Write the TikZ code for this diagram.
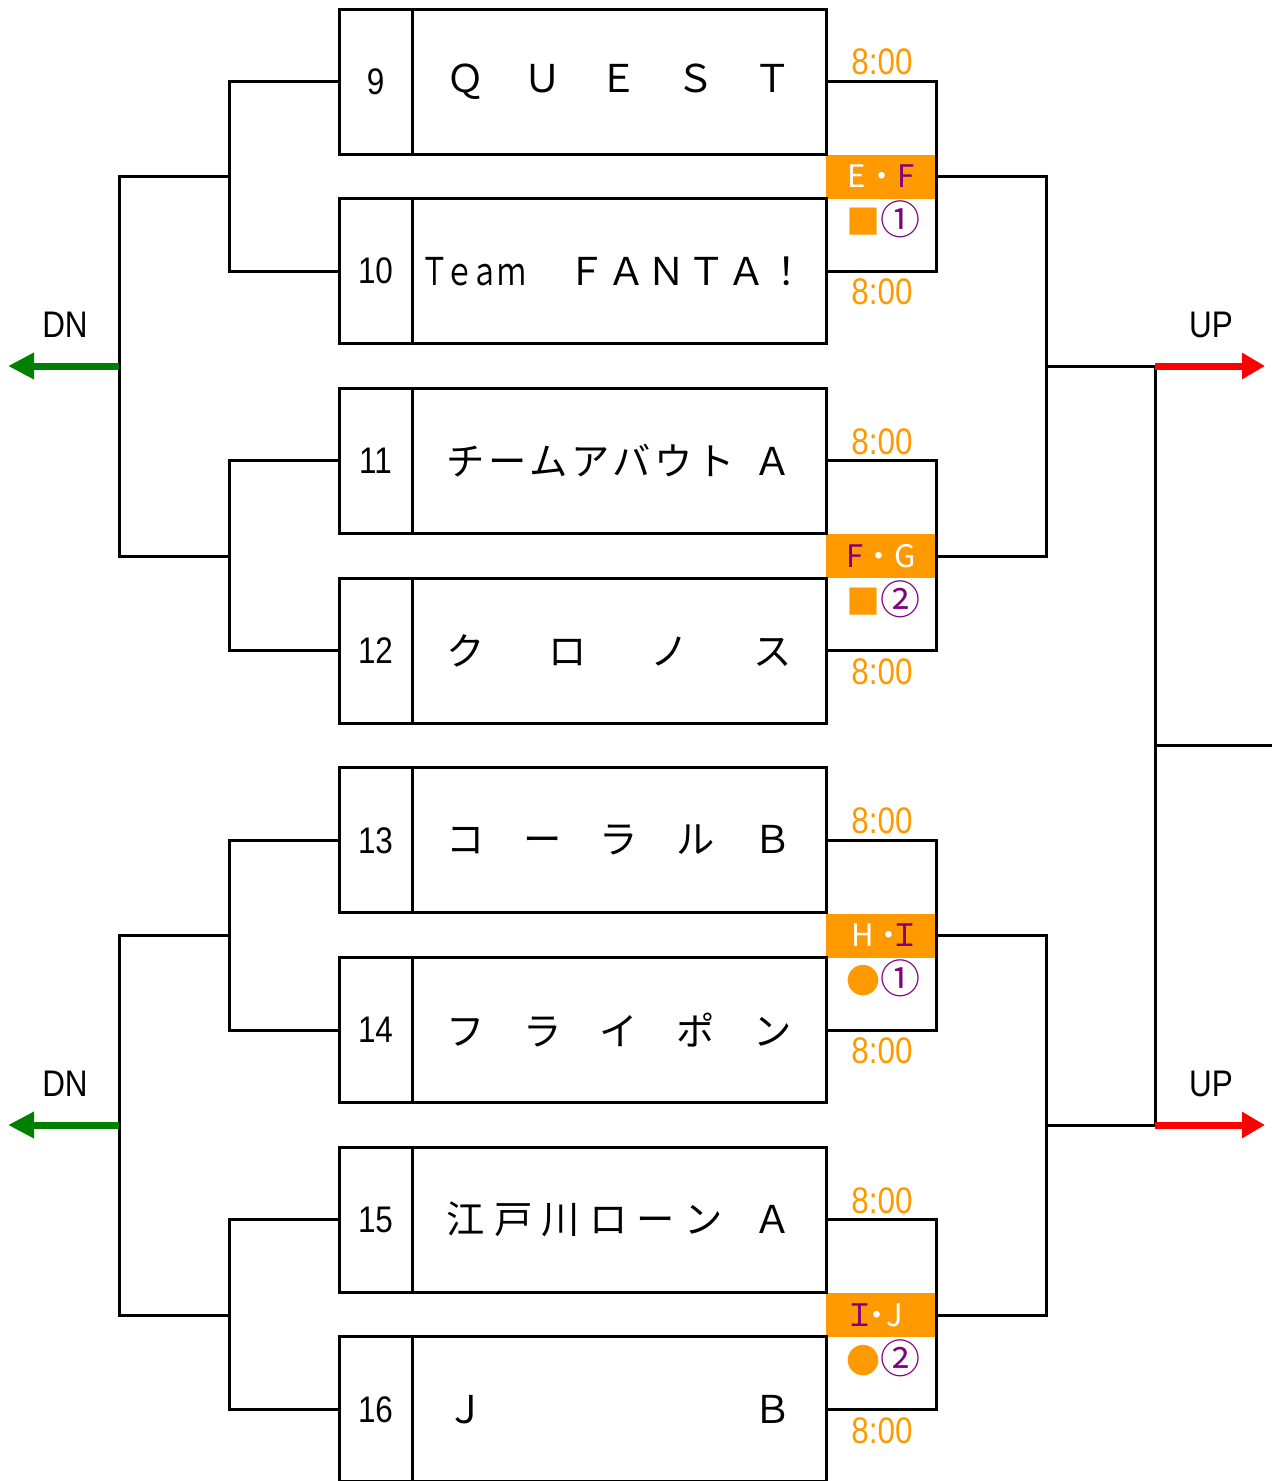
\documentclass[tikz,border=0pt]{standalone}
\usepackage{fontspec}
\setmainfont{Liberation Sans}
\newfontfamily\jpfont{Noto Sans CJK JP}
\newfontfamily\jpnarrow[FakeStretch=0.75]{Noto Sans CJK JP}
\newfontfamily\numfont[FakeStretch=0.85]{Liberation Sans}
\usetikzlibrary{arrows.meta}

\definecolor{slotorange}{RGB}{255,153,0}
\definecolor{slotpurple}{RGB}{128,0,128}
\definecolor{dngreen}{RGB}{0,128,0}

\newcommand{\spreadname}[1]{\makebox[345pt][s]{#1}}
\newcommand{\ringno}[1]{{\fontsize{40}{40}\selectfont\textcolor{slotpurple}{#1}}}

\tikzset{
  numcell/.style={draw,line width=3pt,minimum width=73pt,minimum height=145pt,inner sep=0pt,font=\numfont\fontsize{37}{37}\selectfont},
  namecell/.style={draw,line width=3pt,minimum width=414pt,minimum height=145pt,inner sep=0pt,font=\jpfont\fontsize{38.3}{40}\selectfont},
  timelbl/.style={text=slotorange,inner sep=0pt,font=\numfont\fontsize{37}{37}\selectfont},
  slottag/.style={fill=slotorange,minimum width=110pt,minimum height=44pt,inner sep=0pt,font=\jpfont\fontsize{31}{31}\selectfont},
  slotmark/.style={inner sep=0pt,font=\jpfont\fontsize{34}{34}\selectfont},
  sidelbl/.style={inner sep=0pt,font=\numfont\fontsize{37}{37}\selectfont},
  wire/.style={line width=3pt},
  dnarrow/.style={line width=7pt,dngreen,-{Triangle[length=26pt,width=25pt]}},
  uparrow/.style={line width=7pt,red,-{Triangle[length=23pt,width=25pt]}},
}

\begin{document}
\begin{tikzpicture}[x=1pt,y=-1pt]
  \useasboundingbox (0,0) rectangle (1272,1481);
  \clip (0,0) rectangle (1272,1481);

  % slot tags between the boxes
  \node[slottag] (tagEF) at (881,176.5) {\textcolor{white}{E・}\textcolor{slotpurple}{F}};
  \node[slottag] (tagFG) at (881,556) {\textcolor{slotpurple}{F}\textcolor{white}{・G}};
  \node[slottag] (tagHI) at (881,935.5) {\textcolor{white}{H・}\kern-15pt\textcolor{slotpurple}{Ｉ}\kern-10pt};
  \node[slottag] (tagIJ) at (881,1315) {\textcolor{slotpurple}{Ｉ}\kern-14pt\textcolor{white}{・\kern-6pt J}\kern14pt};
  \node[slotmark] (markEF) at (883,219) {\textcolor{slotorange}{■}\ringno{①}};
  \node[slotmark] (markFG) at (883,599) {\textcolor{slotorange}{■}\ringno{②}};
  \node[slotmark] (markHI) at (883,978) {\textcolor{slotorange}{●}\ringno{①}};
  \node[slotmark] (markIJ) at (883,1358) {\textcolor{slotorange}{●}\ringno{②}};

  % team boxes
  \foreach \i/\team [count=\k from 0] in {
      9/{\spreadname{Ｑ\hfil Ｕ\hfil Ｅ\hfil Ｓ\hfil Ｔ}},
      10/{{\jpnarrow Ｔ\kern-3.7pt ｅ\kern-3.7pt ａ\kern-1.7pt ｍ}\kern41.5pt Ｆ\kern1.7pt Ａ\kern1.7pt Ｎ\kern1.7pt Ｔ\kern1.7pt Ａ\kern1.7pt ！\kern11.3pt},
      11/{\spreadname{チ\hfil ー\hfil ム\hfil ア\hfil バ\hfil ウ\hfil ト\hfil\hspace{12pt}\hfil Ａ}},
      12/{\spreadname{ク\hfil ロ\hfil ノ\hfil ス}},
      13/{\spreadname{コ\hfil ー\hfil ラ\hfil ル\hfil Ｂ}},
      14/{\spreadname{フ\hfil ラ\hfil イ\hfil ポ\hfil ン}},
      15/{\spreadname{江\hfil 戸\hfil 川\hfil ロ\hfil ー\hfil ン\hfil\hspace{12pt}\hfil Ａ}},
      16/{\spreadname{Ｊ\hfil Ｂ}}} {
    \node[numcell] (n\i) at (375.5,{81.5+189.7*\k}) {\i};
    \node[namecell] (t\i) at (619,{81.5+189.7*\k}) {\team};
  }

  \foreach \i/\y in {9/62,10/292,11/442,12/672,13/821,14/1051,15/1201,16/1431}
    \node[timelbl] (time\i) at (882,\y) {8:00};

  % joins
  \coordinate (pl1) at (229,176.5);
  \coordinate (pl2) at (229,556);
  \coordinate (pl3) at (229,935.5);
  \coordinate (pl4) at (229,1315);
  \coordinate (pr1) at (936,176.5);
  \coordinate (pr2) at (936,556);
  \coordinate (pr3) at (936,935.5);
  \coordinate (pr4) at (936,1315);
  \coordinate (sl1) at (119,366);
  \coordinate (sl2) at (119,1125);
  \coordinate (sr1) at (1046,366);
  \coordinate (sr2) at (1046,1125);
  \coordinate (fin1) at (1155,366);
  \coordinate (fin2) at (1155,1125);
  \coordinate (finmid) at (1155,745.5);
  \coordinate (finout) at (1272,745.5);
  \coordinate (dn1) at (8,366);
  \coordinate (dn2) at (8,1125);
  \coordinate (up1) at (1265,366);
  \coordinate (up2) at (1265,1125);

  \foreach \a/\b/\p in {9/10/1,11/12/2,13/14/3,15/16/4} {
    \draw[wire] (n\a.west) -| (pl\p) |- (n\b.west);
    \draw[wire] (t\a.east) -| (pr\p) |- (t\b.east);
  }
  \draw[wire] (pl1) -| (sl1) |- (pl2);
  \draw[wire] (pl3) -| (sl2) |- (pl4);
  \draw[wire] (pr1) -| (sr1) |- (pr2);
  \draw[wire] (pr3) -| (sr2) |- (pr4);
  \draw[wire] (sr1) -- (fin1) -- (fin2) -- (sr2);
  \draw[wire] (finmid) -- (finout);

  \draw[dnarrow] (sl1) -- (dn1);
  \draw[dnarrow] (sl2) -- (dn2);
  \draw[uparrow] (fin1) -- (up1);
  \draw[uparrow] (fin2) -- (up2);
  \node[sidelbl] (dnlbl1) at (65,325) {DN};
  \node[sidelbl] (dnlbl2) at (65,1084) {DN};
  \node[sidelbl] (uplbl1) at (1211,325) {UP};
  \node[sidelbl] (uplbl2) at (1211,1084) {UP};
\end{tikzpicture}
\end{document}
